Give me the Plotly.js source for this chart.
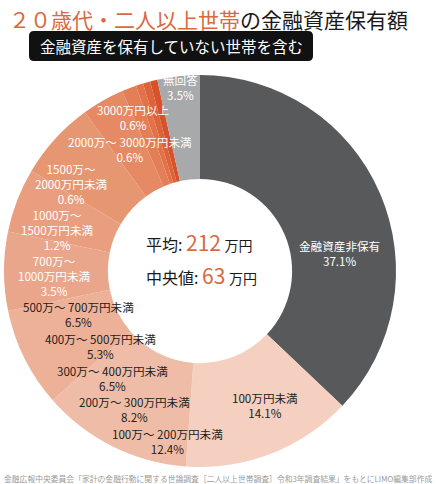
<!DOCTYPE html>
<html>
<head>
<meta charset="utf-8">
<script src="https://cdn.plot.ly/plotly-3.0.1.min.js"></script>
<style>html,body{margin:0;padding:0;background:#fff;}#chart{width:436px;height:484px;}</style>
</head>
<body>
<div id="chart"></div>
<script>
// ---- data ----
var categories = ['金融資産非保有','100万円未満','100万～200万円未満','200万～300万円未満','300万～400万円未満','400万～500万円未満','500万～700万円未満','700万～1000万円未満','1000万～1500万円未満','1500万～2000万円未満','2000万～3000万円未満','3000万円以上','無回答'];
var shares = [37.1, 14.1, 12.4, 8.2, 6.5, 5.3, 6.5, 3.5, 1.2, 0.6, 0.6, 0.6, 3.5];
var summaryLabels = ['平均','中央値'];
var summaryValues = [212, 63];
var summaryUnit = '万円';
var titleMain = '２０歳代・二人以上世帯';
var titleRest = 'の金融資産保有額';
var subtitle = '金融資産を保有していない世帯を含む';
var source = '金融広報中央委員会「家計の金融行動に関する世論調査［二人以上世帯調査］令和3年調査結果」をもとにLIMO編集部作成';

// ---- styles ----
var colors = ['#58595b','#f5cfbf','#efbda7','#edb198','#eaa68b','#e99e80','#e79672','#e58a64','#e47e56','#e2724a','#de633a','#d5522a','#a8a9ab'];
var textColors = ['#fff','#222','#222','#222','#222','#222','#222','#fff','#fff','#fff','#fff','#fff','#fff'];
var wrapAtTilde = [false,false,false,false,false,false,false,true,true,true,false,false,false];
// label block centers in pixels (layout only)
var labelPos = [[339,253],[265,405],[167,441],[134,409],[112,378],[100,346],[78,314],[54,276],[57,230],[71,184],[130,150],[133,118],[180,87]];

var W = 436, H = 484;
function px(x){ return x / W; }
function py(y){ return 1 - y / H; }

var font = '"Noto Sans CJK JP", "Noto Sans", sans-serif';
var annotations = [];

categories.forEach(function(c, i){
  var lines;
  if (wrapAtTilde[i]) {
    var parts = c.split('～');
    lines = [parts[0] + '～', parts[1]];
  } else {
    lines = [c.replace('～', '～ ')];
  }
  lines.push(shares[i].toFixed(1) + '%');
  annotations.push({
    xref:'paper', yref:'paper', x: px(labelPos[i][0]), y: py(labelPos[i][1]),
    text: lines.join('<br>'), showarrow:false, xanchor:'center', yanchor:'middle',
    align:'center', borderpad:0,
    font:{family:font, size:11.6, color:textColors[i]}
  });
});

// title
annotations.push({
  xref:'paper', yref:'paper', x: px(7), y: py(19), xanchor:'left', yanchor:'middle',
  showarrow:false,
  text:'<span style="color:#d9693f">' + titleMain + '</span>' + titleRest,
  font:{family:font, size:21, color:'#1a1a1a'}
});
// subtitle
annotations.push({
  xref:'paper', yref:'paper', x: px(171), y: py(46), xanchor:'center', yanchor:'middle',
  showarrow:false, text: subtitle,
  font:{family:font, size:15.5, color:'#ffffff'}
});
// center summary
var summaryY = [242, 275];
summaryLabels.forEach(function(l, i){
  annotations.push({
    xref:'paper', yref:'paper', x: px(144), y: py(summaryY[i]), xanchor:'left', yanchor:'middle',
    showarrow:false,
    text: l + ': <span style="color:#d9693f;font-size:21px">' + summaryValues[i] + '</span> <span style="font-size:14px">' + summaryUnit + '</span>',
    font:{family:font, size:16, color:'#1a1a1a'}
  });
});
// source
annotations.push({
  xref:'paper', yref:'paper', x: px(218), y: py(478), xanchor:'center', yanchor:'middle',
  showarrow:false, text: source,
  font:{family:font, size:7.8, color:'#9a9a9a'}
});

function roundRect(x0, y0, x1, y1, r){
  return 'M' + px(x0 + r) + ',' + py(y0) +
    ' L' + px(x1 - r) + ',' + py(y0) +
    ' Q' + px(x1) + ',' + py(y0) + ' ' + px(x1) + ',' + py(y0 + r) +
    ' L' + px(x1) + ',' + py(y1 - r) +
    ' Q' + px(x1) + ',' + py(y1) + ' ' + px(x1 - r) + ',' + py(y1) +
    ' L' + px(x0 + r) + ',' + py(y1) +
    ' Q' + px(x0) + ',' + py(y1) + ' ' + px(x0) + ',' + py(y1 - r) +
    ' L' + px(x0) + ',' + py(y0 + r) +
    ' Q' + px(x0) + ',' + py(y0) + ' ' + px(x0 + r) + ',' + py(y0) + ' Z';
}

var trace = {
  type:'pie',
  labels: categories,
  values: shares,
  sort:false,
  direction:'clockwise',
  rotation:0,
  hole:0.47,
  textinfo:'none',
  hoverinfo:'label+percent',
  marker:{colors:colors, line:{width:0}},
  domain:{x:[px(4), px(396)], y:[py(467), py(75)]},
  showlegend:false
};

var layout = {
  width:W, height:H,
  margin:{l:0,r:0,t:0,b:0},
  paper_bgcolor:'#ffffff',
  showlegend:false,
  annotations: annotations,
  shapes:[{type:'path', xref:'paper', yref:'paper', path: roundRect(29, 31, 313, 61, 5), fillcolor:'#111111', line:{width:0}}]
};

Plotly.newPlot('chart', [trace], layout, {staticPlot:true, displayModeBar:false});
</script>
</body>
</html>
